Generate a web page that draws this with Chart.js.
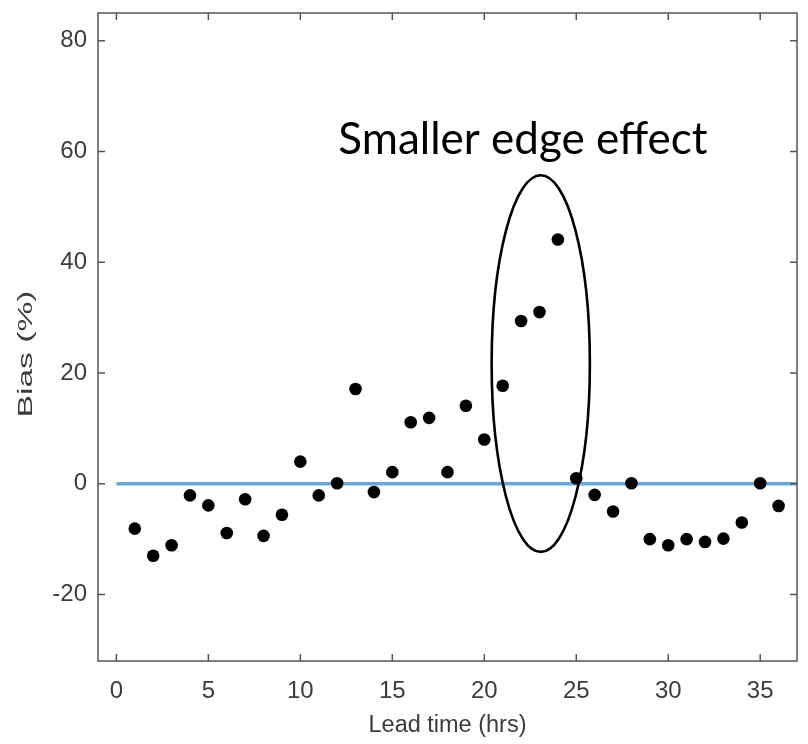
<!DOCTYPE html>
<html>
<head>
<meta charset="utf-8">
<script src="https://cdn.jsdelivr.net/npm/chart.js@4/dist/chart.umd.min.js"></script>
<style>
  html, body { margin: 0; padding: 0; background: #fff; }
  canvas { display: block; }
</style>
</head>
<body>
<canvas id="myChart" width="808" height="744"></canvas>
<script>
// lead time (hrs) vs bias (%)
const leadTimes = [1, 2, 3, 4, 5, 6, 7, 8, 9, 10, 11, 12, 13, 14, 15, 16, 17, 18,
  19, 20, 21, 22, 23, 24, 25, 26, 27, 28, 29, 30, 31, 32, 33, 34, 35, 36];
const bias = [-8.1, -13.0, -11.1, -2.1, -3.9, -8.9, -2.8, -9.4, -5.6, 4.0, -2.1, 0.1,
  17.1, -1.5, 2.1, 11.1, 11.9, 2.1, 14.1, 8.0, 17.7, 29.4, 31.0, 44.1,
  1.0, -2.0, -5.0, 0.1, -10.0, -11.1, -10.0, -10.5, -9.9, -7.0, 0.1, -4.0];

// zero reference line
const refLineX = [0, 37];
const refLineY = [0, 0];

const xTickValues = [0, 5, 10, 15, 20, 25, 30, 35];
const yTickValues = [-20, 0, 20, 40, 60, 80];

const xTitle = "Lead time (hrs)";
const yTitle = "Bias (%)";
const noteText = "Smaller edge effect";

// ellipse around the 21-25 h points (data units) and the note above it
const ring = { x: 23.07, y: 21.7, rx: 2.67, ry: 34 };
const notePos = { x: 22.1, y: 59.6 };

const axisFont = "'Liberation Sans Narrow', 'Arial Narrow', 'Liberation Sans', Arial, sans-serif";
const textColor = "#3c3c3c";
const frameColor = "#555555";

// box, inward tick marks, y title, ellipse and note
const frame = {
  id: "frame",
  afterDatasetsDraw(chart) {
    const { ctx, scales: { x, y } } = chart;
    const cx = x.getPixelForValue(ring.x);
    const cy = y.getPixelForValue(ring.y);
    const rx = x.getPixelForValue(ring.x + ring.rx) - cx;
    const ry = cy - y.getPixelForValue(ring.y + ring.ry);
    ctx.save();
    ctx.strokeStyle = "#000";
    ctx.lineWidth = 2.6;
    ctx.beginPath();
    ctx.ellipse(cx, cy, rx, ry, 0, 0, Math.PI * 2);
    ctx.stroke();

    ctx.fillStyle = "#000";
    ctx.font = "44px Lato, 'Open Sans', sans-serif";
    ctx.textAlign = "center";
    ctx.textBaseline = "alphabetic";
    ctx.fillText(noteText, x.getPixelForValue(notePos.x), y.getPixelForValue(notePos.y));
    ctx.restore();
  },
  afterDraw(chart) {
    const { ctx, chartArea: a, scales: { x, y } } = chart;
    const len = 7;
    ctx.save();
    ctx.strokeStyle = frameColor;
    ctx.lineWidth = 1.5;
    ctx.strokeRect(a.left, a.top, a.right - a.left, a.bottom - a.top);
    ctx.beginPath();
    xTickValues.forEach(v => {
      const px = x.getPixelForValue(v);
      ctx.moveTo(px, a.bottom); ctx.lineTo(px, a.bottom - len);
      ctx.moveTo(px, a.top); ctx.lineTo(px, a.top + len);
    });
    yTickValues.forEach(v => {
      const py = y.getPixelForValue(v);
      ctx.moveTo(a.left, py); ctx.lineTo(a.left + len, py);
      ctx.moveTo(a.right, py); ctx.lineTo(a.right - len, py);
    });
    ctx.stroke();

    // rotated y title, stretched along its length
    ctx.fillStyle = textColor;
    ctx.font = "21px 'Liberation Sans', Arial, sans-serif";
    ctx.textAlign = "center";
    ctx.textBaseline = "middle";
    ctx.translate(26, (a.top + a.bottom) / 2 + 17);
    ctx.rotate(-Math.PI / 2);
    ctx.scale(1.6, 1);
    ctx.fillText(yTitle, 0, 0);
    ctx.restore();
  }
};

const points = leadTimes.map((t, i) => ({ x: t, y: bias[i] }));
const refLine = refLineX.map((v, i) => ({ x: v, y: refLineY[i] }));

new Chart(document.getElementById("myChart"), {
  type: "scatter",
  data: {
    datasets: [
      {
        type: "line",
        data: refLine,
        borderColor: "#66a6d9",
        borderWidth: 3.3,
        pointRadius: 0,
        fill: false,
        order: 2
      },
      {
        data: points,
        backgroundColor: "#000",
        borderColor: "#000",
        borderWidth: 0,
        pointStyle: "circle",
        pointRadius: 6.3,
        order: 1
      }
    ]
  },
  options: {
    responsive: false,
    animation: false,
    layout: { padding: { top: 13, right: 11, left: 0, bottom: 0 } },
    plugins: { legend: { display: false }, tooltip: { enabled: false } },
    scales: {
      x: {
        type: "linear",
        min: -1,
        max: 37,
        afterBuildTicks: s => { s.ticks = xTickValues.map(v => ({ value: v })); },
        afterFit: s => { s.height = 83; s.paddingLeft = 0; s.paddingRight = 0; },
        grid: { display: false, drawTicks: false },
        border: { display: false },
        ticks: {
          font: { family: axisFont, size: 24 },
          color: textColor,
          padding: 16,
          maxRotation: 0,
          autoSkip: false
        },
        title: {
          display: true,
          text: xTitle,
          color: textColor,
          font: { family: "'Liberation Sans', Arial, sans-serif", size: 23.5 },
          padding: { top: 0, bottom: 4 }
        }
      },
      y: {
        min: -32,
        max: 85,
        afterBuildTicks: s => { s.ticks = yTickValues.map(v => ({ value: v })); },
        afterFit: s => { s.width = 98; s.paddingTop = 0; s.paddingBottom = 0; },
        grid: { display: false, drawTicks: false },
        border: { display: false },
        ticks: {
          font: { family: axisFont, size: 24 },
          color: textColor,
          padding: 11
        }
      }
    }
  },
  plugins: [frame]
});
</script>
</body>
</html>
